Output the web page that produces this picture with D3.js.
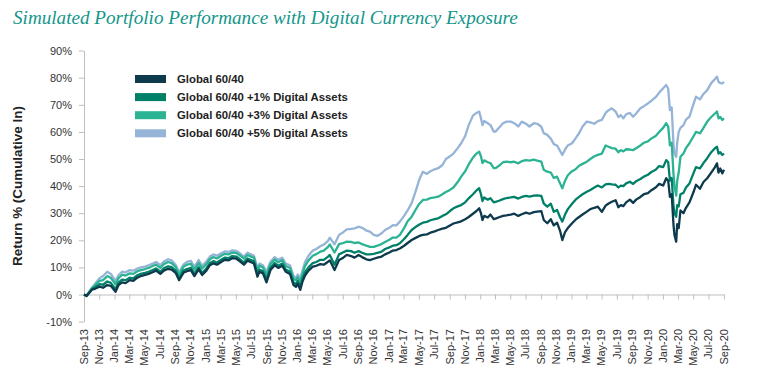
<!DOCTYPE html>
<html><head><meta charset="utf-8">
<script src="https://cdn.jsdelivr.net/npm/d3@7/dist/d3.min.js"></script>
<style>body{margin:0;background:#fff}svg{display:block}</style>
</head><body><svg id="c" width="763" height="381"></svg>
<script>
const titleText = "Simulated Portfolio Performance with Digital Currency Exposure";
const yAxisTitle = "Return % (Cumulative In)";
const seriesNames = ["Global 60/40","Global 60/40 +1% Digital Assets","Global 60/40 +3% Digital Assets","Global 60/40 +5% Digital Assets"];
const seriesColors = ["#0d3a4c","#008068","#2bb393","#95b4d7"];

const dates = ["2013-09-30","2013-10-10","2013-10-20","2013-11-01","2013-11-15","2013-12-01","2013-12-15","2014-01-01","2014-01-15","2014-02-03","2014-02-15","2014-03-01","2014-03-15","2014-04-01","2014-04-15","2014-05-01","2014-05-15","2014-06-01","2014-06-15","2014-07-01","2014-07-15","2014-08-01","2014-08-15","2014-09-01","2014-09-15","2014-10-01","2014-10-15","2014-11-01","2014-11-15","2014-12-01","2014-12-15","2015-01-01","2015-01-15","2015-02-01","2015-02-15","2015-03-01","2015-03-15","2015-04-01","2015-04-15","2015-05-01","2015-05-15","2015-06-01","2015-06-15","2015-07-01","2015-07-15","2015-08-01","2015-08-10","2015-08-24","2015-09-01","2015-09-15","2015-09-29","2015-10-15","2015-11-01","2015-11-15","2015-12-01","2015-12-15","2016-01-01","2016-01-15","2016-01-25","2016-02-01","2016-02-11","2016-02-20","2016-03-01","2016-03-15","2016-04-01","2016-04-15","2016-05-01","2016-05-15","2016-06-01","2016-06-08","2016-06-27","2016-07-15","2016-08-01","2016-08-15","2016-09-01","2016-09-15","2016-10-01","2016-10-15","2016-11-01","2016-11-15","2016-12-01","2016-12-15","2017-01-01","2017-01-15","2017-02-01","2017-02-15","2017-03-01","2017-03-15","2017-04-01","2017-04-15","2017-05-01","2017-05-15","2017-06-01","2017-06-15","2017-07-01","2017-07-15","2017-08-01","2017-08-15","2017-09-01","2017-09-15","2017-10-01","2017-10-15","2017-11-01","2017-11-15","2017-12-01","2017-12-15","2018-01-01","2018-01-15","2018-01-26","2018-02-02","2018-02-08","2018-02-15","2018-03-01","2018-03-12","2018-03-25","2018-04-01","2018-04-15","2018-05-01","2018-05-15","2018-06-01","2018-06-15","2018-07-01","2018-07-15","2018-08-01","2018-08-15","2018-09-01","2018-09-15","2018-10-01","2018-10-11","2018-10-25","2018-11-08","2018-11-20","2018-12-03","2018-12-15","2018-12-24","2019-01-04","2019-01-15","2019-02-01","2019-02-15","2019-03-01","2019-03-15","2019-04-01","2019-04-15","2019-05-01","2019-05-15","2019-05-31","2019-06-15","2019-06-27","2019-07-10","2019-07-25","2019-08-05","2019-08-15","2019-08-25","2019-09-05","2019-09-20","2019-10-03","2019-10-15","2019-11-01","2019-11-15","2019-12-01","2019-12-15","2020-01-01","2020-01-15","2020-01-31","2020-02-12","2020-02-20","2020-02-27","2020-03-05","2020-03-12","2020-03-16","2020-03-23","2020-03-27","2020-04-02","2020-04-09","2020-04-21","2020-05-01","2020-05-15","2020-06-01","2020-06-10","2020-06-26","2020-07-10","2020-07-25","2020-08-10","2020-08-25","2020-09-02","2020-09-08","2020-09-15","2020-09-23","2020-09-30"];

const global6040 = [0,-0.5,0.5,1.8,2.2,2.9,2.5,3.5,3.2,1.0,3.5,4.5,4.2,5.3,5.0,6.2,6.8,7.2,7.6,8.2,8.8,7.6,8.8,9.5,9.2,8.0,5.3,8.0,8.6,9.0,6.8,9.3,7.2,8.8,10.8,11.5,11.0,12.0,12.8,12.6,13.4,13.2,12.2,11.0,12.5,11.8,11.5,6.6,8.4,7.8,4.5,9.0,10.8,9.8,10.6,8.4,7.6,3.5,2.8,4.0,1.7,4.8,7.0,8.8,10.3,10.6,11.2,11.0,12.1,12.6,9.0,12.7,13.6,14.6,14.2,13.6,14.6,13.8,13.0,12.7,13.2,13.6,14.0,14.8,15.5,16.2,16.4,17.0,18.0,19.0,20.1,20.8,21.6,22.0,22.2,22.8,23.3,23.8,24.3,24.6,25.5,26.2,26.6,27.0,27.8,28.6,29.8,30.8,31.8,30.0,27.5,29.0,28.4,29.5,27.8,28.0,28.5,29.0,29.2,29.5,29.8,29.0,29.6,30.2,29.8,30.4,30.6,30.8,27.5,26.3,27.8,25.5,26.5,23.5,20.1,23.0,24.5,26.3,27.6,28.6,29.5,30.6,31.5,32.0,32.4,30.5,32.8,33.6,34.2,34.8,32.2,33.0,32.6,34.0,35.0,33.8,35.0,36.0,37.0,37.4,38.5,39.5,40.8,40.2,42.9,42.0,36.0,37.0,26.0,22.0,19.5,26.0,24.5,31.0,30.0,32.0,34.0,38.0,40.5,39.0,41.5,42.9,45.0,47.0,48.4,45.0,46.5,44.7,46.0];

const plus1 = [0,-0.5,0.6,2.0,2.8,3.8,3.6,4.8,4.3,2.0,4.4,5.5,5.3,6.2,5.9,7.1,7.6,8.0,8.4,9.0,9.6,8.4,9.7,10.4,10.1,8.8,6.0,8.8,9.4,9.8,7.6,10.1,8.0,9.6,11.6,12.3,11.8,12.8,13.6,13.4,14.2,14.0,13.0,11.8,13.3,12.6,12.3,7.4,9.2,8.6,5.5,9.9,11.6,10.6,11.4,9.2,8.4,4.4,3.8,5.0,2.8,5.8,8.2,10.0,11.6,12.0,12.8,12.8,14.0,14.6,11.0,14.8,15.6,16.2,16.0,15.4,16.0,15.4,14.8,14.8,15.0,15.4,15.8,16.8,17.4,18.0,18.2,18.9,20.5,22.0,23.8,24.8,25.8,26.5,26.8,27.4,27.8,28.1,29.0,29.6,30.8,31.8,32.5,33.0,34.0,35.5,37.0,38.4,39.2,37.0,34.5,35.8,35.0,35.5,34.0,34.2,34.6,35.2,35.6,35.8,36.0,35.4,36.0,36.4,36.1,36.5,36.6,36.4,33.5,32.4,33.5,30.5,31.2,28.5,26.9,29.5,31.5,33.5,35.0,36.0,37.0,37.9,38.6,39.5,40.2,39.5,40.6,40.8,40.6,40.5,39.5,40.2,40.0,41.0,41.6,40.8,41.8,42.6,43.5,44.2,45.2,46.0,47.4,47.0,49.6,48.8,42.0,43.0,33.0,30.0,28.7,33.0,32.5,37.0,37.5,39.5,41.0,45.0,47.0,46.5,48.5,50.3,52.5,54.0,54.5,52.0,52.5,51.5,52.0];

const plus3 = [0,-0.6,0.8,2.3,3.6,5.0,5.3,6.8,6.2,3.8,6.0,7.3,7.0,7.8,7.6,8.6,9.0,9.4,9.8,10.5,11.0,9.8,11.2,12.0,11.6,10.2,7.4,10.2,11.0,11.3,9.2,11.6,9.6,11.2,13.0,13.8,13.3,14.3,15.0,14.8,15.5,15.3,14.4,13.2,14.6,13.9,13.6,8.8,10.6,10.0,7.2,11.2,12.9,11.9,12.7,10.5,9.8,5.8,5.2,6.4,4.5,7.6,10.5,12.6,14.3,14.9,15.8,16.2,17.6,18.5,15.5,18.6,19.0,19.5,19.4,19.0,19.2,18.6,18.0,17.6,17.6,18.0,18.6,19.4,20.2,21.0,21.0,22.0,24.5,27.0,28.7,31.0,33.5,34.9,35.0,35.6,35.8,36.1,37.0,37.8,38.6,39.5,41.5,43.5,45.5,48.0,50.5,52.0,52.7,51.0,48.5,49.5,48.8,48.5,46.6,46.6,47.5,48.8,49.0,48.8,49.0,48.4,49.2,49.6,49.4,49.8,49.4,49.0,46.0,45.3,45.0,43.0,43.5,41.0,39.2,42.0,44.0,45.5,46.2,47.5,48.2,49.0,50.0,51.0,51.5,52.0,55.0,54.5,54.0,53.8,52.5,53.3,52.8,53.6,53.5,53.3,54.0,55.0,56.0,56.5,57.6,58.5,60.0,61.5,63.2,62.0,55.0,56.0,44.7,40.0,36.5,42.0,45.0,50.8,52.0,54.0,55.8,58.5,60.0,59.5,61.5,63.8,65.5,66.8,67.5,65.0,65.5,64.4,65.0];

const plus5 = [0,-0.6,1.0,2.5,4.2,6.0,6.8,8.4,7.6,5.0,7.2,8.4,8.2,9.0,8.8,9.6,10.0,10.3,10.8,11.4,12.0,10.8,12.2,13.0,12.6,11.0,8.2,11.0,12.0,12.4,10.2,12.7,10.6,12.2,14.0,14.8,14.3,15.2,15.9,15.7,16.3,16.1,15.2,14.0,15.4,14.7,14.3,9.6,11.4,10.8,8.4,12.1,13.8,12.8,13.6,11.4,10.8,6.8,6.2,7.4,6.0,8.8,12.0,14.3,16.2,16.8,17.8,18.4,19.8,21.0,18.5,22.0,23.0,24.0,24.2,24.4,25.0,24.6,23.6,23.2,22.0,21.6,22.6,23.8,24.6,25.6,25.5,26.9,29.0,31.0,33.7,37.5,42.5,45.3,44.5,45.5,46.2,46.6,47.8,50.0,51.0,52.0,54.0,55.8,58.5,62.5,66.0,67.0,67.5,65.0,62.5,64.0,63.2,62.5,60.1,60.1,61.5,63.2,63.8,63.8,63.2,62.0,63.8,63.0,62.0,63.2,63.0,61.9,59.5,58.9,57.5,55.5,55.0,53.0,51.5,53.5,55.0,55.8,57.6,59.5,62.0,63.8,63.5,63.0,64.0,64.4,67.0,68.0,68.7,67.5,65.5,66.2,65.0,66.5,67.0,65.6,66.8,68.7,69.5,70.5,71.5,72.8,74.5,76.1,77.3,76.0,68.0,69.0,55.8,52.0,50.8,56.0,60.0,61.5,62.5,64.5,65.6,70.5,73.0,72.0,74.0,75.4,78.0,79.5,80.4,78.5,78.0,77.9,78.5];

const xTickLabels = ["Sep-13","Nov-13","Jan-14","Mar-14","May-14","Jul-14","Sep-14","Nov-14","Jan-15","Mar-15","May-15","Jul-15","Sep-15","Nov-15","Jan-16","Mar-16","May-16","Jul-16","Sep-16","Nov-16","Jan-17","Mar-17","May-17","Jul-17","Sep-17","Nov-17","Jan-18","Mar-18","May-18","Jul-18","Sep-18","Nov-18","Jan-19","Mar-19","May-19","Jul-19","Sep-19","Nov-19","Jan-20","Mar-20","May-20","Jul-20","Sep-20"];
const yTicks = [-10,0,10,20,30,40,50,60,70,80,90];

const svg = d3.select("#c");
const parse = d3.timeParse("%Y-%m-%d");
const dts = dates.map(parse);
const start = parse("2013-09-30"), end = parse("2020-09-30");
const x = d3.scaleTime().domain([start, end]).range([84, 724]);
const y = d3.scaleLinear().domain([-10, 90]).range([321.6, 50.6]);
const axisCol = "#bfbfbf";
const sans = "'Liberation Sans', Arial, sans-serif";

// title
const title = svg.append("text").attr("x", 13).attr("y", 23.5)
  .attr("font-family", "'Liberation Serif', 'DejaVu Serif', serif")
  .attr("font-style", "italic").attr("font-size", 20).attr("fill", "#13968a").text(titleText);
{ const w = title.node().getComputedTextLength(); title.attr("font-size", 20 * 505 / w); }

// y axis
const yAxis = svg.append("g").attr("transform", "translate(84,0)")
  .call(d3.axisLeft(y).tickValues(yTicks).tickSize(5).tickSizeOuter(0).tickFormat(d => d + "%"));
yAxis.select(".domain").attr("stroke", axisCol);
yAxis.selectAll(".tick line").attr("stroke", axisCol);
yAxis.selectAll(".tick text").attr("font-family", sans).attr("font-size", 11).attr("fill", "#333").attr("x", -12);

// y title
const yt = svg.append("text").attr("transform", "translate(22,186) rotate(-90)")
  .attr("text-anchor", "middle").attr("font-family", sans).attr("font-weight", "bold")
  .attr("font-size", 12).attr("fill", "#222").text(yAxisTitle);
{ const w = yt.node().getComputedTextLength(); yt.attr("font-size", 12 * 160 / w); }

// x axis at 0%
const tickDates = xTickLabels.map((l, i) => d3.timeMonth.offset(start, 2 * i));
const xAxis = svg.append("g").attr("transform", `translate(0,${y(0)})`)
  .call(d3.axisBottom(x).tickValues(tickDates).tickSize(5).tickSizeOuter(0).tickFormat(() => ""));
xAxis.select(".domain").attr("stroke", axisCol);
xAxis.selectAll(".tick line").attr("stroke", axisCol);

svg.append("g").selectAll("text").data(xTickLabels).join("text")
  .attr("transform", (d, i) => `translate(${x(tickDates[i])},329) rotate(-90)`)
  .attr("text-anchor", "end").attr("dy", "0.35em")
  .attr("font-family", sans).attr("font-size", 11).attr("fill", "#333").text(d => d);

// lines
const allSeries = [global6040, plus1, plus3, plus5];
const line = d3.line().x((d, i) => x(dts[i])).y(d => y(d));
const order = [3, 2, 1, 0];
svg.append("g").selectAll("path").data(order).join("path")
  .attr("d", k => line(allSeries[k])).attr("fill", "none")
  .attr("stroke", k => seriesColors[k]).attr("stroke-width", 2.3).attr("stroke-linejoin", "round");

// legend
const lg = svg.append("g");
const legendTexts = [];
seriesNames.forEach((n, i) => {
  const cy = 79 + i * 18.1;
  lg.append("rect").attr("x", 135).attr("y", cy - 4).attr("width", 31).attr("height", 8).attr("fill", seriesColors[i]);
  legendTexts.push(lg.append("text").attr("x", 177).attr("y", cy).attr("dy", "0.35em")
    .attr("font-family", sans).attr("font-weight", "bold").attr("font-size", 11)
    .attr("fill", "#222").text(n));
});
{ const w = legendTexts[1].node().getComputedTextLength(); const fs = 11 * 171 / w; legendTexts.forEach(t => t.attr("font-size", fs)); }
</script></body></html>
